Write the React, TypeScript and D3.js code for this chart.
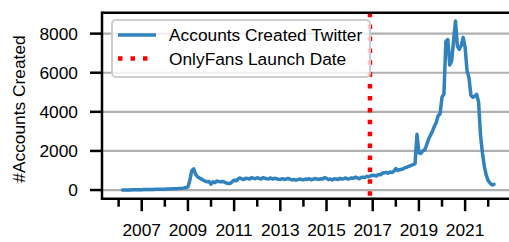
import React from "react";
import * as d3 from "d3";

// Monthly accounts created, starting March 2006
const startYear = 2006;
const startMonth = 3;
const accountsCreated: number[] = [
  // 2006 (Mar–Dec)
  0, 2, 4, 6, 8, 10, 12, 14, 16, 18,
  // 2007
  20, 22, 24, 26, 28, 30, 32, 34, 36, 38, 40, 42,
  // 2008
  45, 48, 52, 55, 60, 65, 70, 75, 85, 95, 110, 130,
  // 2009
  150, 500, 1000, 1080, 800, 680, 620, 560, 500, 450, 420, 440,
  // 2010
  300, 420, 380, 460, 430, 420, 440, 400, 360, 330, 340, 420,
  // 2011
  510, 470, 560, 620, 560, 540, 600, 590, 560, 640, 600, 580,
  // 2012
  630, 600, 560, 640, 600, 580, 570, 620, 560, 600, 580, 550,
  // 2013
  545, 580, 540, 560, 600, 560, 520, 540, 510, 530, 560, 540,
  // 2014
  525, 560, 540, 580, 530, 550, 590, 560, 540, 580, 560, 640,
  // 2015
  600, 540, 560, 520, 580, 560, 540, 600, 560, 580, 620, 560,
  // 2016
  580, 620, 600, 660, 620, 580, 640, 660, 640, 700, 680, 720,
  // 2017
  760, 740, 720, 800, 780, 860, 880, 900, 860, 920, 900, 960,
  // 2018
  1100, 1000, 1040, 1060, 1100, 1150, 1180, 1220, 1260, 1300, 1350, 2850,
  // 2019
  1900, 1870, 2000, 2050, 2300, 2600, 2800, 3000, 3250, 3450, 3800, 3900,
  // 2020
  4760, 4900, 7600, 7700, 6400, 6600, 7650, 8640, 7350, 7200, 7400, 7800,
  // 2021
  7300, 6100, 5750, 4850, 4750, 4800, 4900, 4500, 2800, 1900, 1200, 750,
  // 2022 (Jan–Apr)
  480, 350, 260, 290,
];

const launchDate = 2016.88; // OnlyFans launch (decimal year)
const yTicks = [0, 2000, 4000, 6000, 8000];
const xTickYears = d3.range(2006, 2024);
const xLabelYears = [2007, 2009, 2011, 2013, 2015, 2017, 2019, 2021];
const seriesLabel = "Accounts Created Twitter";
const launchLabel = "OnlyFans Launch Date";
const yAxisLabel = "#Accounts Created";

const W = 509;
const H = 242;
const left = 102;
const right = 512.7;
const top = 12.7;
const bottom = 198.7;

const FONT = "'Liberation Sans', Arial, Helvetica, sans-serif";
const FS = 17.33;
const BLUE = "#3182bd";

export default function App() {
  const data = accountsCreated.map((v, i) => ({
    t: startYear + (startMonth - 1 + i) / 12,
    v,
  }));
  const x = d3.scaleLinear().domain([2005.28, 2023.06]).range([left, right]);
  const y = d3.scaleLinear().domain([-443, 9070]).range([bottom, top]);
  const line = d3
    .line<{ t: number; v: number }>()
    .x((d) => x(d.t))
    .y((d) => y(d.v));

  return (
    <svg
      width={W}
      height={H}
      style={{ position: "absolute", left: 0, top: 0, background: "#fff" }}
      fontFamily={FONT}
    >
      <defs>
        <clipPath id="plot">
          <rect x={left} y={top} width={right - left} height={bottom - top} />
        </clipPath>
      </defs>
      {/* grid */}
      {yTicks.map((t) => (
        <line
          key={"g" + t}
          x1={left}
          x2={right}
          y1={y(t)}
          y2={y(t)}
          stroke="#b0b0b0"
          strokeWidth={2.2}
        />
      ))}
      {/* data */}
      <path
        d={line(data) || ""}
        fill="none"
        stroke={BLUE}
        strokeWidth={3.5}
        strokeLinejoin="round"
        strokeLinecap="round"
        clipPath="url(#plot)"
      />
      {/* launch line */}
      <line
        x1={x(launchDate)}
        x2={x(launchDate)}
        y1={top}
        y2={bottom}
        stroke="#ff0000"
        strokeWidth={4.5}
        strokeDasharray="4.5 7.4"
      />
      {/* spines */}
      <line x1={left} x2={left} y1={top - 1.25} y2={bottom + 1.25} stroke="#000" strokeWidth={2.5} />
      <line x1={left} x2={right} y1={bottom} y2={bottom} stroke="#000" strokeWidth={2.5} />
      <line x1={left} x2={right} y1={top} y2={top} stroke="#000" strokeWidth={2.5} />
      {/* y ticks */}
      {yTicks.map((t) => (
        <g key={"y" + t}>
          <line x1={left - 12} x2={left} y1={y(t)} y2={y(t)} stroke="#000" strokeWidth={2.5} />
          <text
            x={78}
            y={y(t)}
            dy="0.35em"
            textAnchor="end"
            fontSize={FS}
            fill="#000"
          >
            {t}
          </text>
        </g>
      ))}
      {/* x ticks */}
      {xTickYears.map((yr) => {
        const major = yr % 2 === 1;
        return (
          <line
            key={"x" + yr}
            x1={x(yr)}
            x2={x(yr)}
            y1={bottom}
            y2={bottom + (major ? 12.5 : 8)}
            stroke="#000"
            strokeWidth={2.5}
          />
        );
      })}
      {xLabelYears.map((yr) => (
        <text key={"xl" + yr} x={x(yr)} y={236} textAnchor="middle" fontSize={FS} fill="#000">
          {yr}
        </text>
      ))}
      {/* y label */}
      <text
        transform={`translate(25,109) rotate(-90)`}
        textAnchor="middle"
        fontSize={FS}
        fill="#000"
      >
        {yAxisLabel}
      </text>
      {/* legend */}
      <rect
        x={112}
        y={20}
        width={258}
        height={57}
        rx={4}
        fill="#fff"
        fillOpacity={0.8}
        stroke="#cccccc"
        strokeWidth={2}
      />
      <line x1={118} x2={156} y1={35} y2={35} stroke={BLUE} strokeWidth={3.5} />
      <text x={169} y={41} fontSize={FS} fill="#000">
        {seriesLabel}
      </text>
      <line
        x1={118}
        x2={152}
        y1={58.5}
        y2={58.5}
        stroke="#ff0000"
        strokeWidth={4.5}
        strokeDasharray="4.5 8"
      />
      <text x={169} y={65} fontSize={FS} fill="#000">
        {launchLabel}
      </text>
    </svg>
  );
}
